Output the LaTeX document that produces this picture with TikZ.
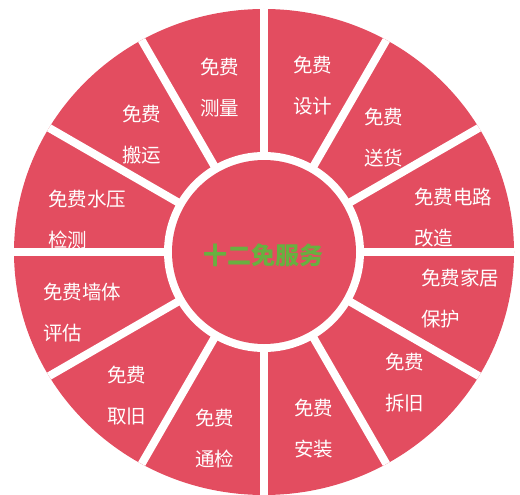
\documentclass[tikz,border=0pt]{standalone}
\usepackage{fontspec}
\newfontfamily\cjk{Noto Sans CJK SC}
\definecolor{secred}{RGB}{227,77,96}
\definecolor{midgreen}{RGB}{104,176,64}
\tikzset{
  lbl/.style={anchor=west, align=left, inner sep=0pt, text=white,
    font=\cjk\fontsize{19.5}{41}\selectfont},
  gapline/.style={white, line width=8pt},
}
\begin{document}
\begin{tikzpicture}[x=1pt,y=-1pt]
\useasboundingbox (0,0) rectangle (520,495);
\coordinate (c) at (264,252);
\fill[secred] (c) ellipse [x radius=250, y radius=243];
\begin{scope}
  \clip (c) ellipse [x radius=250, y radius=243];
  \foreach \a in {0,30,...,330}
    \draw[gapline] (c) -- ++(\a:300);
\end{scope}
\fill[white] (c) circle [radius=100];
\fill[secred] (c) circle [radius=92];
\node[font=\cjk\bfseries\fontsize{24}{24}\selectfont, text=midgreen, inner sep=0pt] (title) at (263,255) {十二免服务};
\node[lbl] (l1) at (200,87.5) {免费\\测量};
\node[lbl] (l2) at (122,135) {免费\\搬运};
\node[lbl] (l3) at (48,219.5) {免费水压\\检测};
\node[lbl] (l4) at (293,85.5) {免费\\设计};
\node[lbl] (l5) at (364,137.5) {免费\\送货};
\node[lbl] (l6) at (414,217.5) {免费电路\\改造};
\node[lbl] (l7) at (43,312.5) {免费墙体\\评估};
\node[lbl] (l8) at (107,396) {免费\\取旧};
\node[lbl] (l9) at (195,439) {免费\\通检};
\node[lbl] (l10) at (421,299) {免费家居\\保护};
\node[lbl] (l11) at (385,383) {免费\\拆旧};
\node[lbl] (l12) at (294,428.5) {免费\\安装};
\end{tikzpicture}
\end{document}
